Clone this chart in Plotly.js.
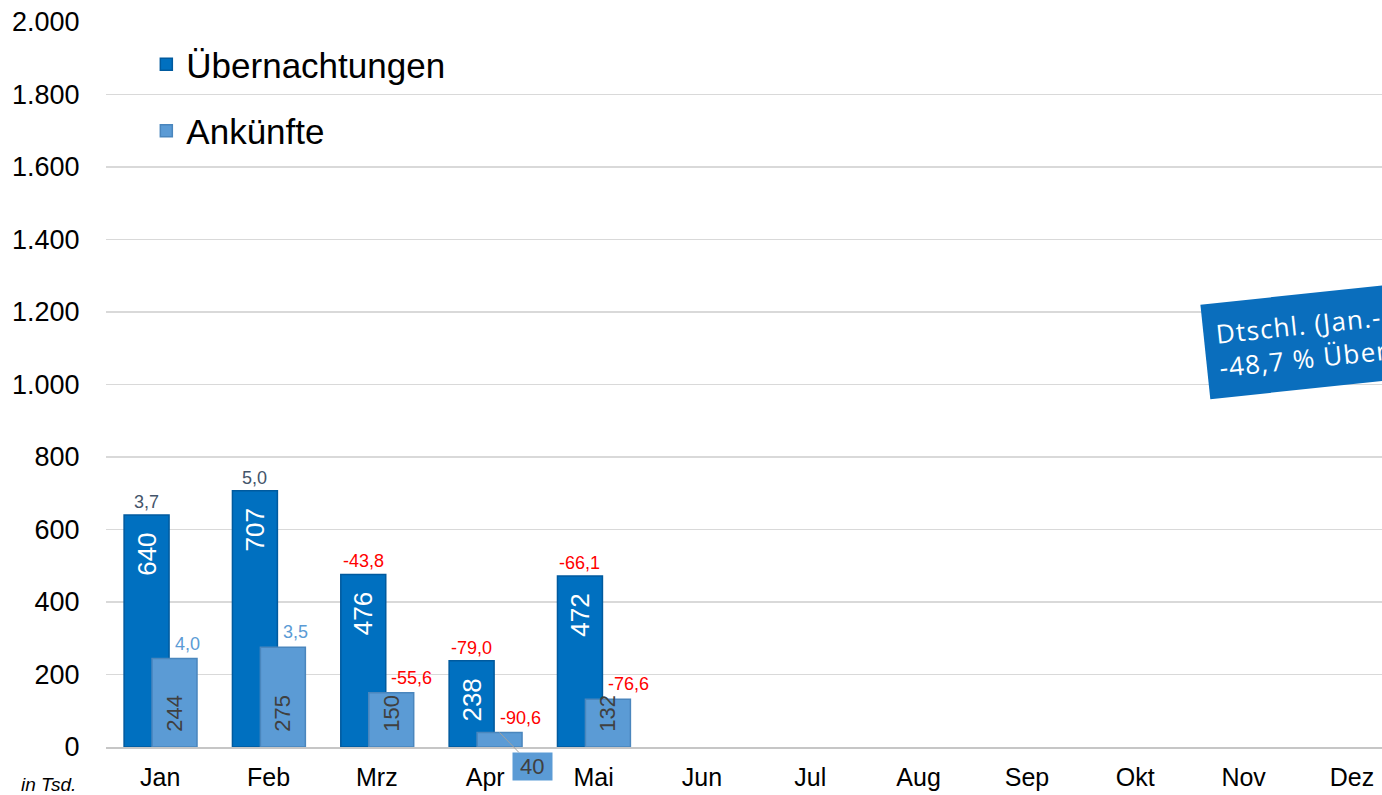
<!DOCTYPE html>
<html>
<head>
<meta charset="utf-8">
<script src="https://cdn.plot.ly/plotly-3.0.1.min.js"></script>
<style>
html,body{margin:0;padding:0;background:#fff;overflow:hidden;}
#chart{width:1382px;height:795px;}
</style>
</head>
<body>
<div id="chart"></div>
<script>
// ---- data ----
const months = ['Jan','Feb','Mrz','Apr','Mai','Jun','Jul','Aug','Sep','Okt','Nov','Dez'];
const dataMonths = ['Jan','Feb','Mrz','Apr','Mai'];
const uebernachtungen = [640, 707, 476, 238, 472];
const ankuenfte = [244, 275, 150, 40, 132];
const changeUeb = [3.7, 5.0, -43.8, -79.0, -66.1];
const changeAnk = [4.0, 3.5, -55.6, -90.6, -76.6];
const yTicks = [0, 200, 400, 600, 800, 1000, 1200, 1400, 1600, 1800, 2000];
const yTickLabels = ['0','200','400','600','800','1.000','1.200','1.400','1.600','1.800','2.000'];
const boxText = 'Dtschl. (Jan.-Mai):<br>-48,7 % Übernachtungen';

// ---- style ----
const FONT = 'Liberation Sans, Arial, sans-serif';
const colUeb = '#0070c0';
const colAnk = '#5b9bd5';
const barW = 0.415;
const offUeb = -0.333;
const offAnk = -0.075;
const smallLimit = 60;
const PAD = '&nbsp;&nbsp;';

const fmt = v => v.toFixed(1).replace('.', ',');

const traces = [
  {
    type: 'bar', name: 'Übernachtungen', legendgroup: 'a',
    x: dataMonths, y: uebernachtungen,
    width: barW, offset: offUeb,
    marker: {color: colUeb, line: {color: '#005a9e', width: 1.5}},
    text: uebernachtungen.map(v => String(v) + PAD),
    textposition: 'inside', insidetextanchor: 'end', textangle: -90,
    constraintext: 'none',
    insidetextfont: {family: FONT, size: 26, color: '#ffffff'},
    hoverinfo: 'x+y'
  },
  {
    type: 'bar', name: 'Ankünfte', legendgroup: 'b',
    x: dataMonths, y: ankuenfte,
    width: barW, offset: offAnk,
    marker: {color: colAnk, line: {color: '#4a86bd', width: 1.5}},
    text: ankuenfte.map(v => v < smallLimit ? '' : PAD + String(v)),
    textposition: 'inside', insidetextanchor: 'start', textangle: -90,
    constraintext: 'none',
    insidetextfont: {family: FONT, size: 22, color: '#404040'},
    hoverinfo: 'x+y'
  }
];

const annotations = [];
dataMonths.forEach((m, i) => {
  annotations.push({
    x: i + offUeb + barW / 2, y: uebernachtungen[i], xref: 'x', yref: 'y',
    text: fmt(changeUeb[i]), showarrow: false, yanchor: 'bottom', yshift: 1,
    font: {family: FONT, size: 18, color: changeUeb[i] < 0 ? '#ff0000' : '#44546a'}
  });
  annotations.push({
    x: i + offAnk + barW / 2, y: ankuenfte[i], xref: 'x', yref: 'y',
    text: fmt(changeAnk[i]), showarrow: false, xanchor: 'left', yanchor: 'bottom',
    yshift: 3, xshift: -2,
    font: {family: FONT, size: 18, color: changeAnk[i] < 0 ? '#ff0000' : colAnk}
  });
  if (ankuenfte[i] < smallLimit) {
    annotations.push({
      x: i + offAnk + barW / 2, y: ankuenfte[i], xref: 'x', yref: 'y',
      text: ' ' + String(ankuenfte[i]) + ' ', showarrow: true, arrowhead: 0, arrowwidth: 1,
      arrowcolor: '#a0a0a0', ax: 33, ay: 34, standoff: 0,
      bgcolor: colAnk, borderpad: 1,
      font: {family: FONT, size: 22, color: '#404040'}
    });
  }
});
annotations.push({
  xref: 'paper', yref: 'paper', x: -0.045, y: -0.052, xanchor: 'center', yanchor: 'middle',
  text: 'in Tsd.', showarrow: false,
  font: {family: FONT, size: 19, color: '#000', style: 'italic'}
});
annotations.push({
  xref: 'paper', yref: 'paper', x: 0.857, y: 0.568, xanchor: 'left', yanchor: 'middle',
  text: boxText, showarrow: false, align: 'left', textangle: -6,
  bgcolor: '#0a6ebd', borderpad: 12,
  font: {family: 'Open Sans, sans-serif', size: 26, color: '#ffffff'}
});

// letter spacing for the rotated info box (last annotation)
const st = document.createElement('style');
st.textContent = 'g.annotation[data-index="' + (annotations.length - 1) + '"] text{letter-spacing:1.2px;}';
document.head.appendChild(st);

const layout = {
  width: 1382, height: 795,
  margin: {l: 106, r: 0, t: 22, b: 48, pad: 0},
  paper_bgcolor: '#ffffff', plot_bgcolor: '#ffffff',
  font: {family: FONT, color: '#000'},
  barmode: 'overlay',
  showlegend: true,
  legend: {
    x: 0.0316, y: 0.982, xanchor: 'left', yanchor: 'top',
    font: {family: FONT, size: 35, color: '#000'},
    bgcolor: 'rgba(0,0,0,0)', tracegroupgap: 18, traceorder: 'grouped'
  },
  xaxis: {
    type: 'category', categoryorder: 'array', categoryarray: months,
    tickvals: months, ticktext: months,
    range: [-0.5, 11.277], fixedrange: true,
    showgrid: false, zeroline: false,
    showline: true, linecolor: '#c6c6c6', linewidth: 2,
    ticks: 'outside', ticklen: 7, tickcolor: 'rgba(0,0,0,0)',
    tickfont: {family: FONT, size: 25, color: '#000'}
  },
  yaxis: {
    range: [0, 2000], fixedrange: true,
    tickvals: yTicks, ticktext: yTickLabels,
    showgrid: true, gridcolor: '#d9d9d9', gridwidth: 1.3,
    zeroline: false, showline: false,
    ticks: 'outside', ticklen: 20, tickcolor: 'rgba(0,0,0,0)',
    tickfont: {family: FONT, size: 27, color: '#000'}
  },
  annotations: annotations
};

Plotly.newPlot('chart', traces, layout, {displayModeBar: false, staticPlot: true});
</script>
</body>
</html>
